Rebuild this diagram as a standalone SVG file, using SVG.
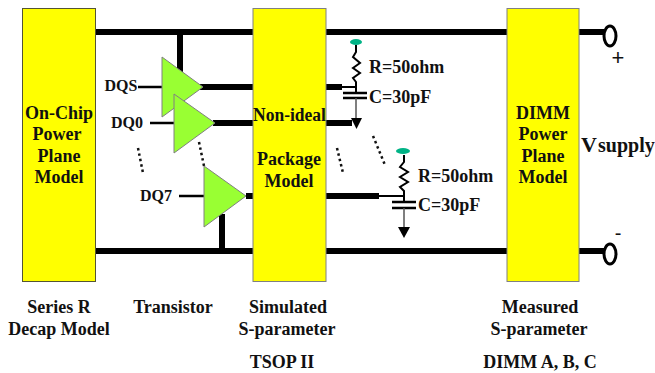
<svg xmlns="http://www.w3.org/2000/svg" width="655" height="373" viewBox="0 0 655 373">
<style>
text{font-family:"Liberation Serif","Times New Roman",serif;font-weight:bold;fill:#111;text-anchor:middle;font-size:18px}
.s{font-size:16px}
.l{text-anchor:start}
.box{fill:#ffff00;stroke:#808080;stroke-width:1}
.tri{fill:#99ff33;stroke:#808080;stroke-width:1}
.bus{stroke:#000;stroke-width:6;fill:none}
.thin{stroke:#000;stroke-width:2.5;fill:none}
.wire{stroke:#000;stroke-width:2;fill:none}
.gray{stroke:#555;stroke-width:1.5;fill:none}
.dots{stroke:#111;stroke-width:2.5;stroke-dasharray:2.5 3;fill:none}
.term{fill:#fff;stroke:#000;stroke-width:3}
.pin{fill:#00b386}
</style>
<rect width="655" height="373" fill="#fff"/>
<g id="connectors">
<path class="bus" d="M95 32H253M326 32H507M579 32H604M95 251H253M326 251H507M579 251H604"/>
<path class="bus" d="M180 32V72M222 214V251"/>
<path class="bus" d="M200 87H253M213 123H253M246 196H253M326 196H379"/>
<path class="bus" d="M326 87H342M326 123H352"/>
<path class="thin" d="M138 87H163M150 123H175M179 196H204"/>
<path class="wire" d="M342 87H356V93M379 196H404V202"/>
<path class="wire" d="M356 45V52L353 57L360 63L353 68L360 73L353 78L356 82V87"/>
<path class="wire" d="M404 155V162L400 167L408 172L400 177L408 182L400 187L404 191V196"/>
<path class="thin" d="M343 93H367M343 98H367M392 202H416M392 208H416"/>
<path class="gray" d="M356 98V120M404 208V228"/>
<path class="dots" d="M138 148L143 173M199 142L204 166M337 148L343 173M373 136L385 165"/>
</g>
<g id="arrows">
<path d="M351 118H362L356.500 129Z" fill="#000"/>
<path d="M398 227H410L404 238Z" fill="#000"/>
</g>
<g id="pins">
<ellipse class="pin" cx="356" cy="42" rx="6" ry="3"/>
<ellipse class="pin" cx="403" cy="151" rx="7" ry="3"/>
</g>
<g id="on-chip"><rect x="22.500" y="8.500" width="73" height="273" fill="#ffff00" stroke="#555533" stroke-width="1"/>
<text x="59" y="119">On-Chip</text><text x="57" y="140">Power</text><text x="59" y="162">Plane</text><text x="59" y="183">Model</text></g>
<g id="package"><rect class="box" x="253" y="8.500" width="73" height="273"/>
<text x="289.500" y="121" textLength="73" lengthAdjust="spacingAndGlyphs">Non-ideal</text><text x="289" y="165">Package</text><text x="289" y="187">Model</text></g>
<g id="dimm"><rect class="box" x="507" y="8.500" width="72" height="273"/>
<text x="543" y="119">DIMM</text><text x="543" y="140">Power</text><text x="543" y="162">Plane</text><text x="543" y="183">Model</text></g>
<g id="dqs"><path class="tri" d="M162 57L203 87L162 117Z"/></g>
<g id="dq0"><path class="tri" d="M174 94L215 123L174 153Z"/></g>
<g id="dq7"><path class="tri" d="M204 166L246 196L204 227Z"/></g>
<g id="terminals">
<ellipse class="term" cx="610" cy="36" rx="6" ry="10"/>
<ellipse class="term" cx="610" cy="254" rx="6" ry="10"/>
</g>
<g id="labels">
<text class="s" x="121" y="91">DQS</text>
<text class="s" x="127" y="128">DQ0</text>
<text class="s" x="156" y="201">DQ7</text>
<text class="l" x="369" y="73">R=50ohm</text>
<text class="l" x="369" y="103">C=30pF</text>
<text class="l" x="418" y="182">R=50ohm</text>
<text class="l" x="418" y="211">C=30pF</text>
<text x="618" y="65" style="font-size:22px;font-weight:normal;font-family:'Liberation Sans',sans-serif">+</text>
<text x="618" y="240" style="font-size:20px;font-weight:normal;font-family:'Liberation Sans',sans-serif">-</text>
<text class="l" x="581" y="152" style="font-size:22px">V</text>
<text class="l" x="598" y="152" style="font-size:20px">supply</text>
<text x="59" y="313">Series R</text><text x="59" y="335">Decap Model</text>
<text x="173" y="313">Transistor</text>
<text x="288" y="313">Simulated</text><text x="287" y="335">S-parameter</text><text x="282" y="368">TSOP II</text>
<text x="540" y="313">Measured</text><text x="539" y="335">S-parameter</text><text x="540" y="368">DIMM A, B, C</text>
</g>
</svg>
